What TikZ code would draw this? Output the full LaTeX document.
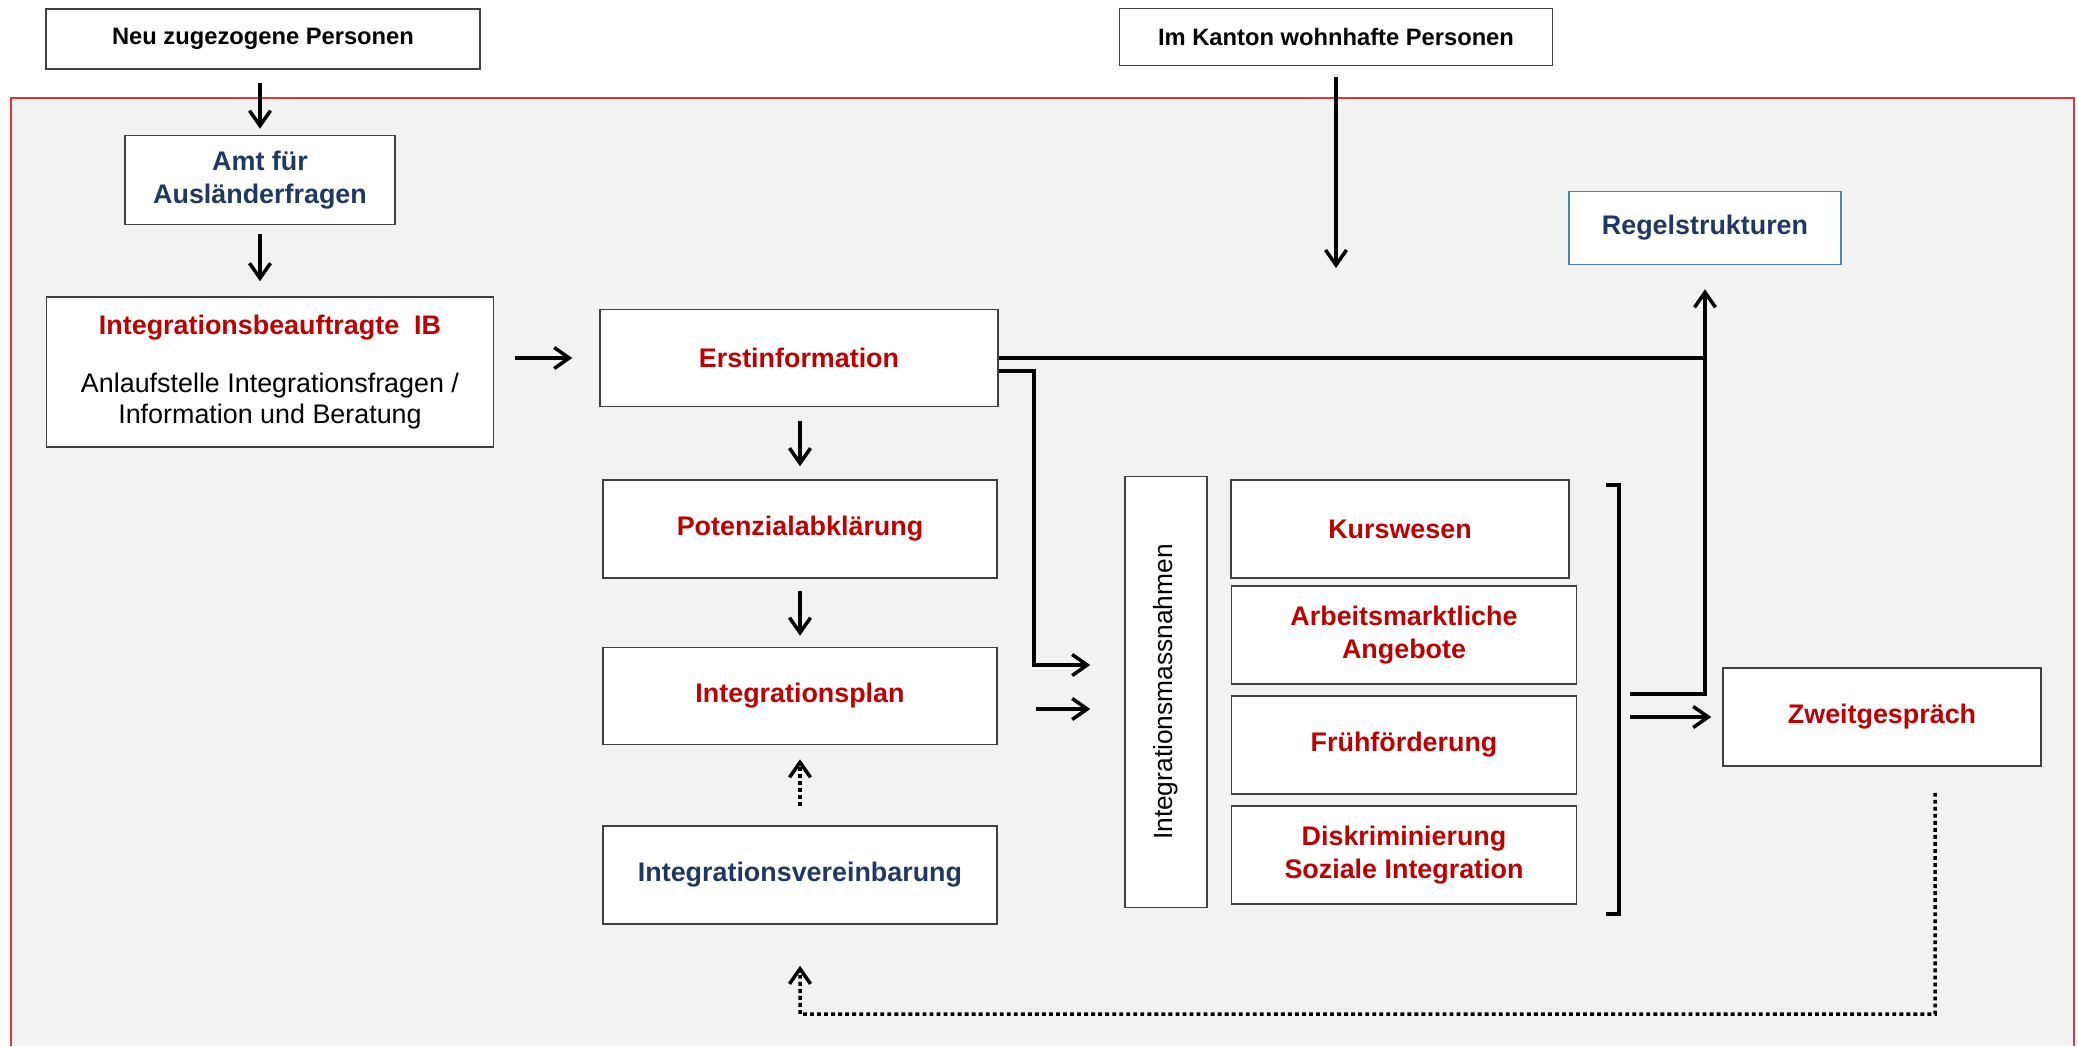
\documentclass[tikz,border=0pt]{standalone}
\usepackage{fontspec}
\usepackage{graphicx}
\setmainfont{Liberation Sans}
\usetikzlibrary{arrows.meta}
\definecolor{redtxt}{HTML}{C00000}
\definecolor{bluetxt}{HTML}{1F3864}
\definecolor{boxline}{HTML}{404040}
\definecolor{bgfill}{HTML}{F2F2F2}
\definecolor{framered}{HTML}{D9383A}
\definecolor{regelline}{HTML}{4F81BD}

\begin{document}
\begin{tikzpicture}[x=0.02cm,y=-0.02cm,
  box/.style={draw=boxline,fill=white,line width=0.9pt,align=center,inner sep=2pt},
  toplbl/.style={font=\fontsize{13.5}{16}\selectfont\bfseries},
  redlbl/.style={font=\fontsize{15.3}{19}\selectfont\bfseries,text=redtxt},
  bluelbl/.style={font=\fontsize{15.3}{19}\selectfont\bfseries,text=bluetxt},
  conn/.style={line width=2.3pt},
  arr/.style={line width=2pt,-{Straight Barb[length=0.3cm,width=0.42cm,line width=2pt]}},
  dotarr/.style={arr,dash pattern=on 2.2pt off 1.8pt}]
\useasboundingbox (0,0) rectangle (2078,1046);
\fill[bgfill] (11,98) rectangle (2074,1046);
\draw[framered,line width=0.8pt] (11,1046) -- (11,98) -- (2074,98) -- (2074,1046);

\node[box,toplbl,minimum width=8.68cm,minimum height=1.2cm] (neu) at (263,39) {Neu zugezogene Personen};
\node[box,toplbl,minimum width=8.66cm,minimum height=1.14cm] (kanton) at (1336,37) {Im Kanton wohnhafte Personen};
\node[box,bluelbl,minimum width=5.4cm,minimum height=1.78cm] (amt) at (260,180) {Amt f\"ur\\Ausl\"anderfragen};
\node[box,minimum width=8.94cm,minimum height=3cm,font=\fontsize{15.3}{17.5}\selectfont] (ib) at (270,372)
  {\textcolor{redtxt}{\bfseries Integrationsbeauftragte\ \ IB}\\[0.55cm]Anlaufstelle Integrationsfragen /\\Information und Beratung};
\node[box,redlbl,minimum width=7.96cm,minimum height=1.94cm] (erst) at (799,358) {Erstinformation};
\node[box,redlbl,minimum width=7.88cm,minimum height=1.96cm] (pot) at (800,529) {Potenzialabkl\"arung};
\node[box,redlbl,minimum width=7.88cm,minimum height=1.94cm] (plan) at (800,696) {Integrationsplan};
\node[box,bluelbl,minimum width=7.88cm,minimum height=1.96cm] (verein) at (800,875) {Integrationsvereinbarung};
\node[box,minimum width=1.64cm,minimum height=8.62cm,font=\fontsize{15}{18}\selectfont] (mass) at (1166,692)
  {\rotatebox{90}{Integrationsmassnahmen}};
\node[box,redlbl,minimum width=6.76cm,minimum height=1.96cm] (kurs) at (1400,529) {Kurswesen};
\node[box,redlbl,minimum width=6.9cm,minimum height=1.96cm] (arbeit) at (1404,635) {Arbeitsmarktliche\\Angebote};
\node[box,redlbl,minimum width=6.9cm,minimum height=1.96cm] (frueh) at (1404,745) {Fr\"uhf\"orderung};
\node[box,redlbl,minimum width=6.9cm,minimum height=1.96cm] (diskr) at (1404,855) {Diskriminierung\\Soziale Integration};
\node[box,bluelbl,draw=regelline,minimum width=5.44cm,minimum height=1.46cm] (regel) at (1705,228) {Regelstrukturen};
\node[box,redlbl,minimum width=6.36cm,minimum height=1.96cm] (zweit) at (1882,717) {Zweitgespr\"ach};

\draw[conn] (1606,485) -- (1619,485) -- (1619,914) -- (1606,914);
\coordinate (kanton-end) at (1336,268);
\coordinate (brk-up) at (1630,694);
\coordinate (brk-out) at (1630,717);
\coordinate (loop) at (1935,1014);

\draw[arr,shorten <=0.26cm,shorten >=0.12cm] (neu.south -| amt.north) -- (amt.north);
\draw[arr,shorten <=0.18cm,shorten >=0.3cm] (amt.south) -- (amt.south |- ib.north);
\draw[arr,shorten <=0.42cm,shorten >=0.54cm] (ib.east |- erst.west) -- (erst.west);
\draw[arr,conn,shorten <=0.22cm] (kanton.south) -- (kanton-end);
\draw[arr,conn,shorten >=0.48cm] (erst.east) -| (regel.south);
\draw[conn] (brk-up) -| (erst.east -| regel.south);
\draw[arr,shorten >=0.22cm] (brk-out) -- (zweit.west);
\draw[arr,shorten >=0.68cm] ([yshift=-0.26cm]erst.east) -- ++(35,0) |- ([yshift=0.54cm]mass.west);
\draw[arr,shorten <=0.76cm,shorten >=0.68cm] ([yshift=-0.26cm]plan.east) -- ([yshift=-0.26cm]plan.east -| mass.west);
\draw[arr,shorten <=0.28cm,shorten >=0.26cm] (erst.south -| pot.north) -- (pot.north);
\draw[arr,shorten <=0.24cm,shorten >=0.22cm] (pot.south) -- (plan.north);
\draw[dotarr,shorten <=0.38cm,shorten >=0.28cm] (verein.north) -- (plan.south);
\draw[dotarr,shorten <=0.52cm,shorten >=0.82cm] ([xshift=1.06cm]zweit.south) -- (loop) -| (verein.south);
\end{tikzpicture}
\end{document}
